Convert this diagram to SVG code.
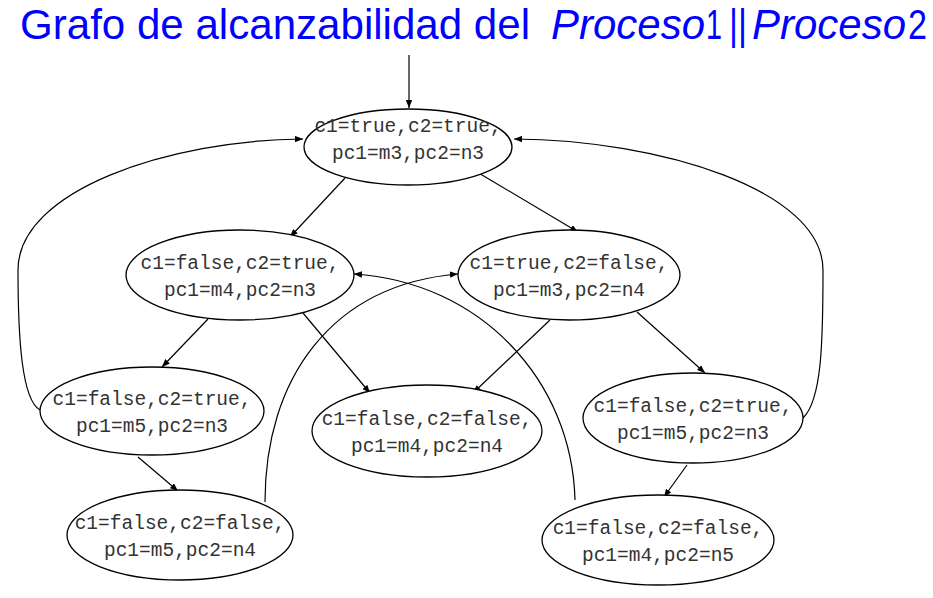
<svg xmlns="http://www.w3.org/2000/svg" width="933" height="598" viewBox="0 0 933 598">
<style>
.n ellipse{fill:#fff;stroke:#000;stroke-width:1.3}
.n text{font-family:"Liberation Mono","Courier New",monospace;font-size:19.5px;fill:#333;text-anchor:middle}
.e path{fill:none;stroke:#000;stroke-width:1.2;marker-end:url(#ah)}
.t{font-family:"Liberation Sans","DejaVu Sans",sans-serif;font-size:42px;fill:#0000ff}
.i{font-style:italic}
</style>
<defs>
<marker id="ah" viewBox="0 0 10 8" refX="10" refY="4" markerWidth="8" markerHeight="6.4" markerUnits="userSpaceOnUse" orient="auto">
<path d="M0,0 L10,4 L0,8 z" fill="#000"/>
</marker>
</defs>
<g id="title">
<text class="t" x="20" y="39" textLength="510" lengthAdjust="spacingAndGlyphs">Grafo de alcanzabilidad del</text>
<text class="t i" x="551" y="39" textLength="154" lengthAdjust="spacingAndGlyphs">Proceso</text>
<text class="t" x="706" y="39" textLength="16" lengthAdjust="spacingAndGlyphs">1</text>
<text class="t" x="729" y="39" textLength="18" lengthAdjust="spacingAndGlyphs">||</text>
<text class="t i" x="752" y="39" textLength="154" lengthAdjust="spacingAndGlyphs">Proceso</text>
<text class="t" x="908" y="39" textLength="19" lengthAdjust="spacingAndGlyphs">2</text>
</g>
<g class="e" id="edges">
<path d="M409,55 L409,108"/>
<path d="M345,178 L290,237"/>
<path d="M477,172 L578,232"/>
<path d="M208,319 L162,367"/>
<path d="M303,313 L370,393"/>
<path d="M550,320 L473,393"/>
<path d="M637,312 L705,373"/>
<path d="M138,457 L178,491"/>
<path d="M687,465 L664,497"/>
<path d="M40,410 C22,400 18,340 18,270 C18,190 170,140 303,139"/>
<path d="M803,418 C822,400 823,340 823,270 C823,190 660,140 514,139"/>
<path d="M265,502 C265,380 330,285 458,274"/>
<path d="M575,500 C572,380 480,282 354,274"/>
</g>
<g class="n" id="n1"><ellipse cx="408" cy="147" rx="104" ry="38"/><text x="408" y="132">c1=true,c2=true,</text><text x="408" y="159">pc1=m3,pc2=n3</text></g>
<g class="n" id="n2"><ellipse cx="240" cy="275" rx="114" ry="45"/><text x="240" y="269">c1=false,c2=true,</text><text x="240" y="296">pc1=m4,pc2=n3</text></g>
<g class="n" id="n3"><ellipse cx="569" cy="275" rx="111" ry="45"/><text x="569" y="269">c1=true,c2=false,</text><text x="569" y="296">pc1=m3,pc2=n4</text></g>
<g class="n" id="n4"><ellipse cx="152" cy="411" rx="112" ry="44"/><text x="152" y="405">c1=false,c2=true,</text><text x="152" y="432">pc1=m5,pc2=n3</text></g>
<g class="n" id="n5"><ellipse cx="427" cy="431" rx="115" ry="46"/><text x="427" y="425">c1=false,c2=false,</text><text x="427" y="452">pc1=m4,pc2=n4</text></g>
<g class="n" id="n6"><ellipse cx="693" cy="418" rx="110" ry="45"/><text x="693" y="412">c1=false,c2=true,</text><text x="693" y="439">pc1=m5,pc2=n3</text></g>
<g class="n" id="n7"><ellipse cx="180" cy="535" rx="113" ry="45"/><text x="180" y="529">c1=false,c2=false,</text><text x="180" y="556">pc1=m5,pc2=n4</text></g>
<g class="n" id="n8"><ellipse cx="658" cy="540" rx="116" ry="45"/><text x="658" y="534">c1=false,c2=false,</text><text x="658" y="561">pc1=m4,pc2=n5</text></g>
</svg>
